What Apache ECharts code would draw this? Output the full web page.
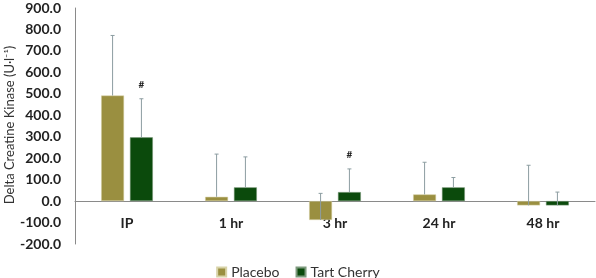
<!DOCTYPE html>
<html>
<head>
<meta charset="utf-8">
<script src="https://cdn.jsdelivr.net/npm/echarts@6/dist/echarts.min.js"></script>
<style>
  html, body { margin: 0; padding: 0; background: #fff; }
  #chart { width: 596px; height: 278px; }
</style>
</head>
<body>
<div id="chart"></div>
<script>
// values
const categories = ['IP', '1 hr', '3 hr', '24 hr', '48 hr'];
const placeboMean = [492, 20, -88, 31, -20];
const placeboErr = [280, 199, 124, 150, 187];
const cherryMean = [297, 64, 42, 64, -20];
const cherryErr = [180, 142, 108, 46, 62];
const cherrySig = [1, 0, 1, 0, 0];   // '#' marks
const placeboSig = [0, 0, 0, 0, 0];
const yTitle = 'Delta Creatine Kinase (U·l⁻¹)';

const barWidthPct = 0.22;
const barGapPct = 0.26;
const font = 'Lato';

const chart = echarts.init(document.getElementById('chart'));

function errorSeries(name, means, errs, sigs, side) {
    return {
        name: name + ' err',
        type: 'custom',
        z: 5,
        silent: true,
        data: means.map((m, i) => [i, m, errs[i], sigs[i]]),
        encode: { x: 0, y: 1 },
        renderItem: function(params, api) {
            const cat = api.value(0);
            const mean = api.value(1);
            const err = api.value(2);
            const sig = api.value(3);
            const bandW = api.size([1, 0])[0];
            const w = bandW * barWidthPct;
            const off = side * (w + w * barGapPct) / 2;
            const p0 = api.coord([cat, mean]);
            const p1 = api.coord([cat, mean + err]);
            const x = p0[0] + off;
            const children = [
                { type: 'line', shape: { x1: x, y1: p0[1], x2: x, y2: p1[1] },
                  style: { stroke: '#8c9da1', lineWidth: 1 } },
                { type: 'line', shape: { x1: x - 2, y1: p1[1], x2: x + 2, y2: p1[1] },
                  style: { stroke: '#8c9da1', lineWidth: 1 } }
            ];
            if (sig) {
                children.push({ type: 'text', x: x, y: p1[1] - 14,
                    style: { text: '#', fill: '#222', font: 'bold 10px ' + font,
                             align: 'center', verticalAlign: 'middle' } });
            }
            return { type: 'group', children: children };
        }
    };
}

const option = {
    animation: false,
    grid: { left: 75, right: 1, top: 8, bottom: 34, outerBoundsMode: 'none' },
    graphic: [{
        type: 'text',
        x: 10,
        y: 125,
        rotation: Math.PI / 2,
        style: { text: yTitle, font: '13px ' + font, fill: '#333', align: 'center', verticalAlign: 'middle' }
    }],
    legend: {
        data: ['Placebo', 'Tart Cherry'],
        top: 260,
        left: 'center',
        icon: 'rect',
        itemWidth: 9,
        itemHeight: 9,
        itemGap: 16,
        textStyle: { fontFamily: font, fontSize: 14, color: '#333' }
    },
    xAxis: {
        type: 'category',
        data: categories,
        axisLine: { onZero: true, lineStyle: { color: '#8a8a8a', width: 1 } },
        axisTick: { show: false },
        // labels sit just under the zero line, not at the grid bottom
        axisLabel: { margin: -28, fontFamily: font, fontWeight: 'bold', fontSize: 14, color: '#222' }
    },
    yAxis: {
        type: 'value',
        min: -200,
        max: 900,
        interval: 100,
        axisLine: { show: true, lineStyle: { color: '#8a8a8a', width: 1 } },
        axisTick: { show: false },
        splitLine: { show: false },
        axisLabel: {
            margin: 14,
            fontFamily: font, fontWeight: 'bold', fontSize: 14, color: '#222',
            formatter: v => v.toFixed(1)
        }
    },
    series: [
        {
            name: 'Placebo', type: 'bar', data: placeboMean,
            barWidth: (barWidthPct * 100) + '%', barGap: (barGapPct * 100) + '%',
            itemStyle: { color: '#9a8f40', borderColor: '#d8d3a8', borderWidth: 0.5 }
        },
        {
            name: 'Tart Cherry', type: 'bar', data: cherryMean,
            barWidth: (barWidthPct * 100) + '%', barGap: (barGapPct * 100) + '%',
            itemStyle: { color: '#0b4a0c', borderColor: '#7d9a7d', borderWidth: 0.5 }
        },
        errorSeries('Placebo', placeboMean, placeboErr, placeboSig, -1),
        errorSeries('Tart Cherry', cherryMean, cherryErr, cherrySig, 1)
    ]
};

chart.setOption(option);
</script>
</body>
</html>
